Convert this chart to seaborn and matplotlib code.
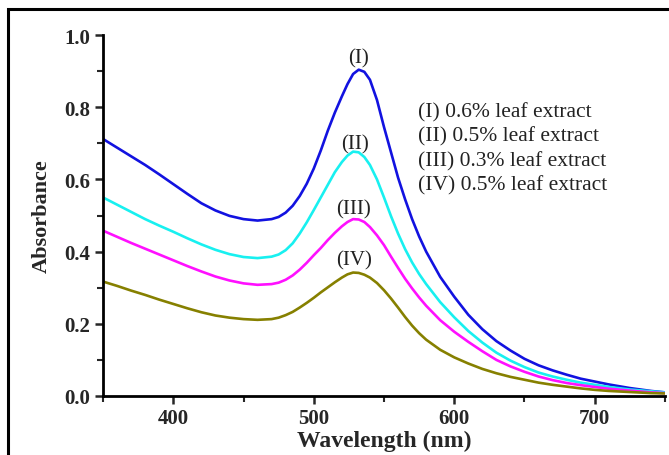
import numpy as np
import pandas as pd
import matplotlib
matplotlib.use("Agg")
import matplotlib.pyplot as plt
from matplotlib.patches import Rectangle
from matplotlib.ticker import MultipleLocator, FormatStrFormatter
import seaborn as sns

wavelength = [350, 360, 370, 380, 390, 400, 410, 420, 430, 440, 450, 460, 470, 475, 480, 485, 490, 495,
              500, 505, 510, 515, 520, 524, 528, 532, 536, 540, 545, 550, 555, 560, 565, 570, 575, 580,
              590, 600, 610, 620, 630, 640, 650, 660, 670, 680, 690, 700, 710, 725, 740, 750]

abs_I = [0.712, 0.688, 0.664, 0.640, 0.614, 0.587, 0.560, 0.534, 0.514, 0.499, 0.490, 0.486, 0.490, 0.496,
         0.508, 0.527, 0.554, 0.588, 0.630, 0.680, 0.735, 0.785, 0.830, 0.864, 0.892, 0.904, 0.898, 0.876,
         0.820, 0.745, 0.675, 0.605, 0.545, 0.490, 0.442, 0.400, 0.330, 0.275, 0.225, 0.185, 0.152, 0.126,
         0.103, 0.085, 0.071, 0.059, 0.048, 0.040, 0.032, 0.022, 0.014, 0.010]
abs_II = [0.550, 0.530, 0.510, 0.490, 0.472, 0.455, 0.437, 0.420, 0.405, 0.393, 0.385, 0.382, 0.386, 0.392,
          0.404, 0.423, 0.450, 0.481, 0.515, 0.550, 0.585, 0.620, 0.648, 0.666, 0.677, 0.675, 0.662, 0.640,
          0.600, 0.550, 0.498, 0.450, 0.407, 0.370, 0.338, 0.310, 0.260, 0.218, 0.180, 0.148, 0.120, 0.098,
          0.080, 0.065, 0.054, 0.045, 0.037, 0.031, 0.025, 0.018, 0.013, 0.010]
abs_III = [0.458, 0.441, 0.424, 0.408, 0.392, 0.376, 0.360, 0.345, 0.331, 0.320, 0.312, 0.308, 0.310, 0.314,
           0.322, 0.334, 0.350, 0.369, 0.390, 0.410, 0.432, 0.452, 0.470, 0.482, 0.490, 0.489, 0.482, 0.468,
           0.445, 0.418, 0.386, 0.355, 0.325, 0.298, 0.273, 0.250, 0.210, 0.178, 0.150, 0.124, 0.100, 0.082,
           0.067, 0.054, 0.044, 0.036, 0.030, 0.025, 0.020, 0.015, 0.010, 0.008]
abs_IV = [0.317, 0.305, 0.292, 0.280, 0.267, 0.255, 0.243, 0.232, 0.223, 0.217, 0.213, 0.211, 0.213, 0.217,
          0.224, 0.233, 0.245, 0.258, 0.272, 0.287, 0.301, 0.315, 0.328, 0.337, 0.342, 0.341, 0.336, 0.328,
          0.313, 0.293, 0.270, 0.245, 0.219, 0.195, 0.174, 0.156, 0.128, 0.107, 0.090, 0.075, 0.063, 0.053,
          0.045, 0.037, 0.031, 0.026, 0.021, 0.017, 0.014, 0.011, 0.008, 0.007]

series_names = ["(I)", "(II)", "(III)", "(IV)"]
legend_lines = ["(I) 0.6% leaf extract", "(II) 0.5% leaf extract",
                "(III) 0.3% leaf extract", "(IV) 0.5% leaf extract"]
colors = ["#1212e0", "#18f0f0", "#ff10ff", "#868000"]

df = pd.concat([
    pd.DataFrame({"Wavelength": wavelength, "Absorbance": vals, "Sample": name})
    for name, vals in zip(series_names, [abs_I, abs_II, abs_III, abs_IV])
], ignore_index=True)

sns.set_style("ticks")
plt.rcParams["font.family"] = ["Liberation Serif", "DejaVu Serif"]

fig = plt.figure(figsize=(6.69, 4.56), dpi=100)
ax = fig.add_axes([0.154, 0.1294, 0.840, 0.7916])

sns.lineplot(data=df, x="Wavelength", y="Absorbance", hue="Sample", palette=colors,
             hue_order=series_names, linewidth=1.9, legend=False, ax=ax, sort=False)
for line in ax.get_lines():
    line.set_solid_joinstyle("round")

ax.set_xlim(350, 750)
ax.set_ylim(0, 1.0)
ax.xaxis.set_major_locator(MultipleLocator(100))
ax.xaxis.set_minor_locator(MultipleLocator(50))
ax.yaxis.set_major_locator(MultipleLocator(0.2))
ax.yaxis.set_minor_locator(MultipleLocator(0.1))
ax.yaxis.set_major_formatter(FormatStrFormatter("%.1f"))

for s in ["top", "right"]:
    ax.spines[s].set_visible(False)
for s in ["left", "bottom"]:
    ax.spines[s].set_linewidth(2.0)
    ax.spines[s].set_color("black")

ax.tick_params(which="major", direction="out", length=6, width=1.8, labelsize=15, pad=3)
ax.tick_params(which="minor", direction="out", length=4, width=1.5)
for lab in ax.get_xticklabels() + ax.get_yticklabels():
    lab.set_fontweight("bold")

ax.set_xlabel("Wavelength (nm)", fontsize=17, fontweight="bold", labelpad=1)
ax.set_ylabel("Absorbance", fontsize=16, fontweight="bold", labelpad=9)

peak_labels = [(532, 0.938, "(I)"), (529, 0.698, "(II)"), (528, 0.518, "(III)"), (529, 0.378, "(IV)")]
for x, y, t in peak_labels:
    ax.text(x, y, t, fontsize=15, ha="center", va="center", color="#222222")

for i, t in enumerate(legend_lines):
    ax.text(574, 0.787 - i * 0.067, t, fontsize=15.5, ha="left", va="center", color="#222222")

fig.patches.append(Rectangle((8 / 669, -0.1), 1.2, 1 - 10 / 456 + 0.1, transform=fig.transFigure,
                             fill=False, edgecolor="black", linewidth=2.2, clip_on=False))

fig.savefig("out.png", dpi=100)
